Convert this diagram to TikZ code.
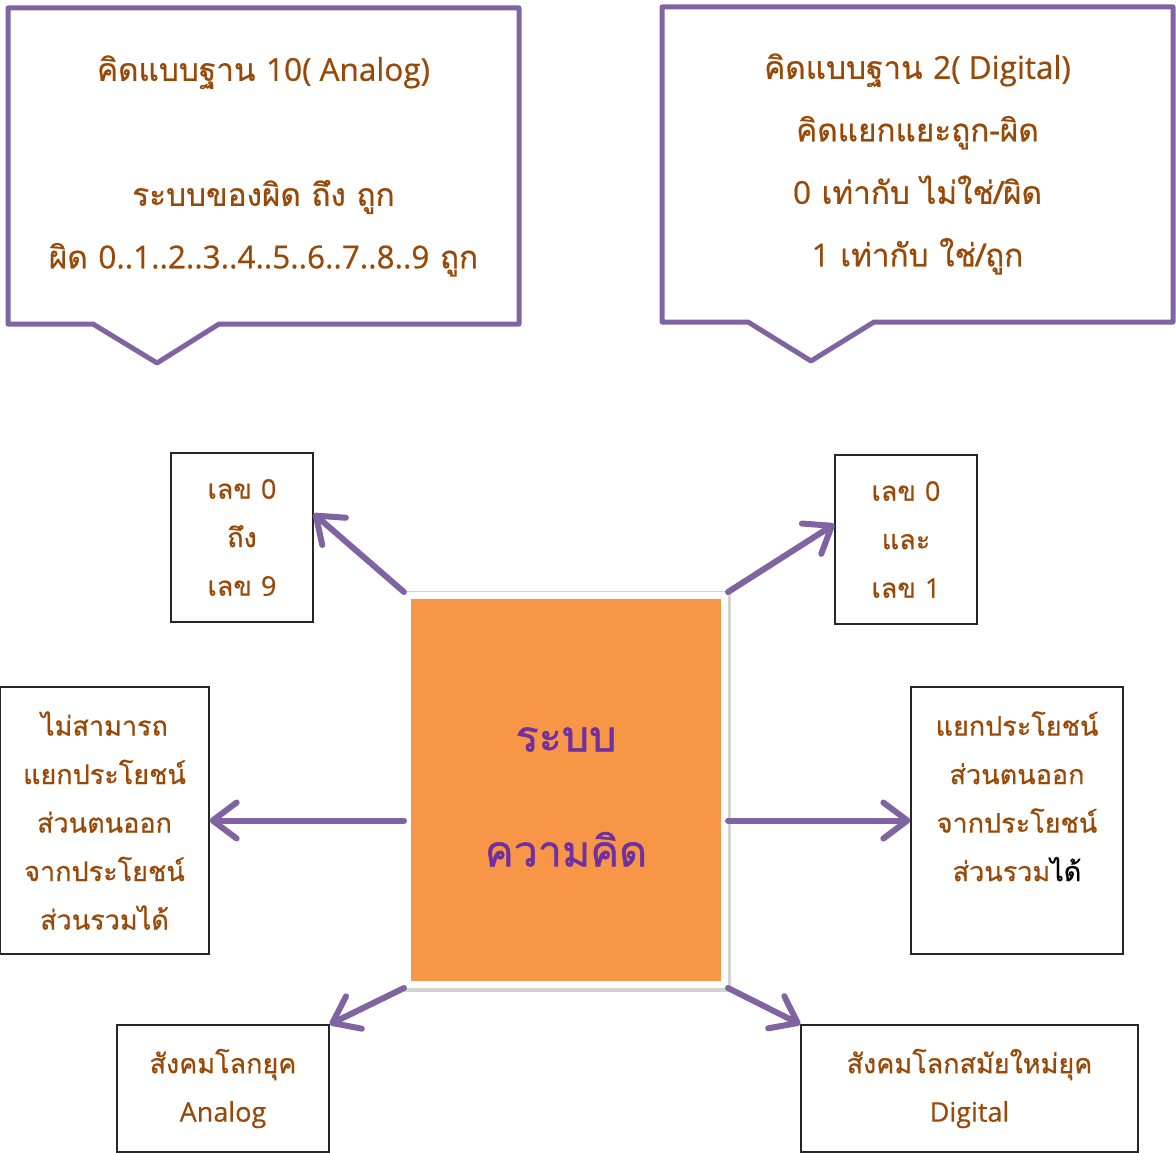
\documentclass[tikz,border=0pt]{standalone}
\usepackage{fontspec}
\setmainfont[Script=Thai,FakeBold=0.6]{Loma}
\newfontfamily\lat[FakeBold=0.5]{Open Sans}
\newfontfamily\thb[Script=Thai,FakeBold=1.2]{Loma}
\usetikzlibrary{arrows.meta,shadows,calc}
\definecolor{brn}{HTML}{984807}
\definecolor{pur}{HTML}{8064A2}
\definecolor{ctxt}{HTML}{7030A0}
\definecolor{org}{HTML}{F79646}
\begin{document}
\begin{tikzpicture}[x=1pt,y=-1pt,
  txt/.style={text=brn, align=center, font=\fontsize{31.5}{62.5}\selectfont},
  smalltxt/.style={text=brn, align=center, font=\fontsize{27}{48.5}\selectfont},
  box/.style={draw=black!85, line width=1.3pt, inner sep=0pt},
  arr/.style={draw=pur, line width=6pt, line cap=round, -{Straight Barb[length=24pt,width=36pt,round]},
    preaction={draw=black!45, opacity=0.35, transform canvas={shift={(1.5pt,-2.5pt)}}}},
  calloutbox/.style={draw=pur, line width=5pt, line join=round, fill=white}]
\useasboundingbox (0,0) rectangle (1176,1153);
% callouts
\draw[calloutbox] (8,8) -- (519,8) -- (519,324) -- (219,324) -- (157,363) -- (93,324) -- (8,324) -- cycle;
\node[txt] (co1) at (263.5,166) {คิดแบบฐาน {\lat 10( Analog)}\\\mbox{}\\ระบบของผิด ถึง ถูก\\ผิด {\lat 0..1..2..3..4..5..6..7..8..9} ถูก};
\draw[calloutbox] (662,7) -- (1173,7) -- (1173,322) -- (874,322) -- (811,361) -- (748,322) -- (662,322) -- cycle;
\node[txt] (co2) at (917.5,164) {คิดแบบฐาน {\lat 2( Digital)}\\คิดแยกแยะถูก-ผิด\\{\lat 0} เท่ากับ ไม่ใช่/ผิด\\{\lat 1} เท่ากับ ใช่/ถูก};
% center
\node[draw=white, line width=7pt, fill=org, minimum width=317pt, minimum height=389pt, inner sep=0pt,
  drop shadow={shadow xshift=1.5pt, shadow yshift=-1.5pt, shadow scale=1.03, opacity=0.35}] (c) at (566,790) {};
\node[text=ctxt, align=center, font=\thb\fontsize{43}{115}\selectfont] (ctext) at (566,797) {ระบบ\\ความคิด};
% boxes
\node[box, smalltxt, minimum width=142pt, minimum height=169pt] (tl) at (242,537.5) {เลข {\lat 0}\\ถึง\\เลข {\lat 9}};
\node[box, smalltxt, minimum width=142pt, minimum height=169pt] (tr) at (906,539.5) {เลข {\lat 0}\\และ\\เลข {\lat 1}};
\node[box, smalltxt, minimum width=209pt, minimum height=267pt] (lf) at (104.5,820.5) {ไม่สามารถ\\แยกประโยชน์\\ส่วนตนออก\\จากประโยชน์\\ส่วนรวมได้};
\node[box, smalltxt, minimum width=212pt, minimum height=267pt] (rt) at (1017,820.5) {แยกประโยชน์\\ส่วนตนออก\\จากประโยชน์\\ส่วนรวม{\color{black}ได้}\\\mbox{}};
\node[box, smalltxt, minimum width=212pt, minimum height=127pt] (bl) at (223,1088.5) {สังคมโลกยุค\\{\lat Analog}};
\node[box, smalltxt, minimum width=337pt, minimum height=127pt] (br) at (969.5,1088.5) {สังคมโลกสมัยใหม่ยุค\\{\lat Digital}};
% arrows
\draw[arr] (c.north west) -- ($(tl.north east)!0.36!(tl.south east)$);
\draw[arr] (c.north east) -- ($(tr.north west)!0.41!(tr.south west)$);
\draw[arr] (c.west |- lf.east) -- (lf.east);
\draw[arr] (c.east |- rt.west) -- (rt.west);
\draw[arr] (c.south west) -- (bl.north east);
\draw[arr] (c.south east) -- (br.north west);
\end{tikzpicture}
\end{document}
